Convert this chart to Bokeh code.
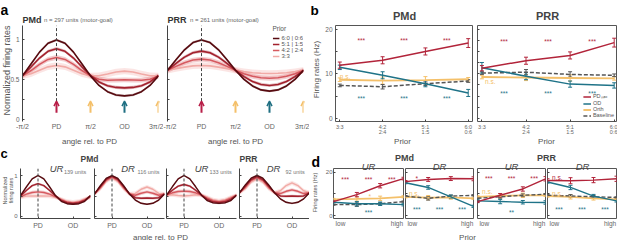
import numpy as np
from bokeh.plotting import figure
from bokeh.models import (Range1d, LinearAxis, FixedTicker, Span, Arrow, OpenHead, Whisker,
                          TeeHead, ColumnDataSource, Legend, LegendItem, GridBox)
from bokeh.layouts import row, column
from bokeh.core.properties import value
from bokeh.embed import file_html
from bokeh.resources import INLINE

FONT = "Liberation Sans"

# ---------------- data ----------------
# angle relative to PD (degrees)
ANG_A = [-90, -67.5, -45, -22.5, 0, 22.5, 45, 67.5, 90, 112.5, 135, 157.5, 180, 202.5, 225, 247.5, 270]
ANG_C = [-90, -60, -30, 0, 30, 60, 90, 120, 150, 180, 210, 240, 270]
ANGLE_TICKS = [-90, 0, 90, 180, 270]
ANGLE_LABELS = ["-π/2", "PD", "π/2", "OD", "3π/2"]
PRIOR_LABELS = ["6:0 | 0:6", "5:1 | 1:5", "4:2 | 2:4", "3:3"]

# panel a : normalized tuning curves (priors 6:0, 5:1, 4:2, 3:3)
a_pmd_60 = [.55, .699, .847, .958, 1.0, .958, .847, .699, .55, .431, .353, .312, .30, .312, .353, .431, .55]
a_pmd_51 = [.555, .662, .773, .858, .89, .858, .773, .662, .555, .474, .427, .406, .40, .406, .427, .474, .555]
a_pmd_42 = [.55, .617, .694, .756, .78, .756, .694, .617, .55, .509, .496, .498, .50, .498, .496, .509, .55]
a_pmd_33 = [.55, .577, .622, .663, .68, .663, .622, .577, .55, .551, .573, .599, .61, .599, .573, .551, .55]
a_prr_60 = [.62, .751, .876, .967, 1.0, .967, .876, .751, .62, .506, .424, .375, .36, .375, .424, .506, .62]
a_prr_51 = [.62, .706, .785, .84, .86, .84, .785, .706, .62, .541, .48, .443, .43, .443, .48, .541, .62]
a_prr_42 = [.62, .669, .715, .748, .76, .748, .715, .669, .62, .577, .545, .526, .52, .526, .545, .577, .62]
a_prr_33 = [.62, .641, .66, .675, .68, .675, .66, .641, .62, .603, .59, .583, .58, .583, .59, .603, .62]
a_band = [0.015, 0.02, 0.03, 0.04]

# panel b : firing rates vs prior
PRIOR_X = [0, 1, 2, 3]
PRIOR_TICK_LABELS = ["3:3", "4:2\n2:4", "5:1\n1:5", "6:0\n0:6"]
b_pmd_pd = [12.0, 13.1, 15.1, 17.0]
b_pmd_od = [11.5, 9.7, 7.8, 5.7]
b_pmd_orth = [8.7, 8.5, 8.6, 8.8]
b_pmd_base = [7.4, 7.1, 7.8, 8.4]
b_pmd_pd_err = [0.7, 0.8, 0.8, 1.0]
b_pmd_od_err = [0.5, 0.8, 0.7, 0.8]
b_pmd_orth_err = [0.4, 0.8, 0.8, 0.4]
b_pmd_base_err = [0.3, 0.5, 0.4, 0.3]
b_prr_pd = [11.3, 13.0, 14.2, 17.1]
b_prr_od = [11.4, 9.5, 7.7, 7.4]
b_prr_orth = [9.3, 9.2, 9.1, 9.0]
b_prr_base = [10.2, 10.4, 9.9, 9.7]
b_prr_pd_err = [0.6, 0.8, 0.8, 1.0]
b_prr_od_err = [1.2, 0.8, 0.7, 0.6]
b_prr_orth_err = [0.4, 0.7, 0.7, 0.4]
b_prr_base_err = [0.3, 0.6, 0.6, 0.3]
b_pmd_marks = [("***", 0.5, 18.0, "pd"), ("***", 1.5, 18.0, "pd"), ("***", 2.5, 18.0, "pd"),
               ("n.s.", 0.0, 9.5, "orth"),
               ("***", 0.5, 4.8, "od"), ("***", 1.5, 4.8, "od"), ("***", 2.5, 4.8, "od")]
b_prr_marks = [("***", 0.5, 17.8, "pd"), ("***", 1.5, 17.8, "pd"), ("***", 2.5, 17.8, "pd"),
               ("n.s.", 0.07, 8.4, "orth"),
               ("***", 0.5, 6.0, "od"), ("***", 1.5, 6.0, "od"), ("***", 2.5, 6.0, "od")]

# panel c : tuning curves split by UR / DR
c_pmd_ur_60 = [.51, .72, .918, 1.0, .918, .72, .51, .37, .312, .30, .312, .37, .51]
c_pmd_ur_51 = [.50, .635, .753, .80, .753, .635, .50, .395, .337, .32, .337, .395, .50]
c_pmd_ur_42 = [.48, .544, .586, .60, .586, .544, .48, .409, .352, .33, .352, .409, .48]
c_pmd_ur_33 = [.47, .496, .501, .50, .501, .496, .47, .421, .371, .35, .371, .421, .47]
c_pmd_dr_60 = [.55, .75, .928, 1.0, .928, .75, .55, .40, .322, .30, .322, .40, .55]
c_pmd_dr_51 = [.55, .724, .903, .98, .903, .724, .55, .459, .444, .45, .444, .459, .55]
c_pmd_dr_42 = [.55, .698, .878, .96, .878, .698, .55, .518, .567, .60, .567, .518, .55]
c_pmd_dr_33 = [.55, .675, .855, .94, .855, .675, .55, .565, .665, .72, .665, .565, .55]
c_prr_ur_60 = [.52, .725, .919, 1.0, .919, .725, .52, .385, .331, .32, .331, .385, .52]
c_prr_ur_51 = [.52, .64, .741, .78, .741, .64, .52, .42, .359, .34, .359, .42, .52]
c_prr_ur_42 = [.52, .578, .61, .62, .61, .578, .52, .448, .385, .36, .385, .448, .52]
c_prr_ur_33 = [.52, .53, .512, .50, .512, .53, .52, .47, .408, .38, .408, .47, .52]
c_prr_dr_60 = [.58, .77, .934, 1.0, .934, .77, .58, .43, .346, .32, .346, .43, .58]
c_prr_dr_51 = [.58, .736, .90, .97, .90, .736, .58, .501, .493, .50, .493, .501, .58]
c_prr_dr_42 = [.58, .71, .875, .95, .875, .71, .58, .56, .615, .65, .615, .56, .58]
c_prr_dr_33 = [.58, .678, .841, .92, .841, .678, .58, .628, .754, .82, .754, .628, .58]
c_band = [0.02, 0.03, 0.04, 0.05]

# panel d : firing rates low -> high prior, UR / DR
d_pmd_ur = dict(pd=[6.5, 9.7, 13.8, 17.1], od=[6.2, 5.5, 5.5, 5.1], orth=[7.5, 7.7, 8.0, 8.7], base=[5.1, 5.1, 5.5, 6.5])
d_pmd_ur_err = dict(pd=[0.4, 1.0, 1.0, 0.6], od=[1.0, 1.0, 0.8, 0.6], orth=[0.5, 1.0, 1.0, 0.5], base=[0.3, 0.8, 0.5, 0.3])
d_pmd_dr = dict(pd=[15.7, 16.7, 17.1, 17.0], od=[15.2, 13.0, 8.7, 4.3], orth=[8.7, 8.3, 8.4, 8.0], base=[9.0, 8.0, 9.0, 9.4])
d_pmd_dr_err = dict(pd=[0.5, 0.9, 0.9, 0.9], od=[0.5, 0.8, 0.8, 0.5], orth=[0.5, 1.0, 0.8, 0.5], base=[0.3, 0.8, 0.5, 0.3])
d_prr_ur = dict(pd=[6.5, 9.4, 12.3, 17.0], od=[6.8, 6.5, 6.2, 6.1], orth=[8.7, 9.1, 9.4, 9.4], base=[8.0, 8.7, 9.4, 9.9])
d_prr_ur_err = dict(pd=[0.4, 0.8, 1.0, 1.0], od=[0.8, 1.0, 0.8, 0.8], orth=[0.5, 1.0, 1.0, 0.5], base=[0.3, 0.6, 0.6, 0.3])
d_prr_dr = dict(pd=[16.2, 16.1, 16.4, 17.0], od=[15.5, 13.0, 9.0, 6.8], orth=[9.0, 8.7, 8.0, 7.5], base=[9.4, 9.1, 8.7, 8.4])
d_prr_dr_err = dict(pd=[0.8, 1.4, 1.2, 1.2], od=[0.5, 1.0, 0.8, 0.5], orth=[0.5, 1.0, 0.8, 0.5], base=[0.3, 0.6, 0.6, 0.3])
d_pmd_ur_marks = [("***", 0.5, 17.7, "pd"), ("***", 1.5, 17.7, "pd"), ("***", 2.5, 17.7, "pd"),
                  ("*", 1.55, 9.6, "orth"), ("***", 1.5, 2.2, "od")]
d_pmd_dr_marks = [("*", 0.5, 18.1, "pd"), ("n.s.", 0.15, 10.1, "orth"),
                  ("***", 0.5, 3.6, "od"), ("***", 1.5, 3.6, "od"), ("***", 2.5, 3.6, "od")]
d_prr_ur_marks = [("***", 0.5, 18.1, "pd"), ("***", 1.5, 18.1, "pd"), ("***", 2.5, 18.1, "pd"),
                  ("n.s.", 0.2, 11.2, "orth"), ("**", 1.5, 2.6, "od")]
d_prr_dr_marks = [("n.s.", 0.2, 17.8, "pd"), ("n.s.", 0.2, 10.1, "orth"),
                  ("***", 0.5, 3.6, "od"), ("***", 1.5, 3.6, "od"), ("***", 2.5, 3.6, "od")]
D_TICKS = [0.3, 2.72]
D_TICK_LABELS = ["low", "high"]

# ---------------- style ----------------
PRIOR_COLORS = ["#570b10", "#a3212d", "#d65a60", "#f1aaa6"]
COL = dict(pd="#b2243a", od="#1f7388", orth="#f4c06a", base="#555555")
DASH = dict(pd="solid", od="solid", orth="solid", base="4 2")
ARROW_X = [0, 90, 180, 270]
ARROW_COL = ["#b81f48", "#f4c06a", "#1f6f82", "#f4c06a"]
ARROW_Y = (0.09, 0.235)
AXC = "#444444"


def base_fig(w, h, left, right, top, bottom, xr, yr, outline=False):
    p = figure(width=w, height=h, x_range=Range1d(*xr), y_range=Range1d(*yr),
               x_axis_type=None, y_axis_type=None, toolbar_location=None,
               output_backend="svg", min_border_left=left, min_border_right=right,
               min_border_top=top, min_border_bottom=bottom)
    p.outline_line_color = "#555555" if outline else None
    p.background_fill_color = "white"
    p.border_fill_color = "white"
    return p


def add_axis(p, side, ticks, labels=None, size="6.5px", standoff=2, line=True, tick=True,
             hide=False, lh=1.2):
    ax = LinearAxis(ticker=FixedTicker(ticks=ticks))
    if hide:
        ax.major_label_overrides = {t: "" for t in ticks}
        ax.major_label_standoff = 0
    else:
        if labels is not None:
            ax.major_label_overrides = labels
        ax.major_label_standoff = standoff
    ax.major_label_text_font = FONT
    ax.major_label_text_font_size = size
    ax.major_label_text_color = "#666666"
    ax.major_label_text_line_height = lh
    ax.major_tick_in = 2 if tick else 0
    ax.major_tick_out = 0
    ax.major_tick_line_color = AXC if tick else None
    ax.minor_tick_line_color = None
    ax.axis_line_color = AXC if line else None
    p.add_layout(ax, side)
    return ax


def draw_curves(p, ang, curves, bands, lw):
    for ys, bw, col in zip(curves[::-1], bands[::-1], PRIOR_COLORS[::-1]):
        y = np.array(ys)
        p.varea(x=ang, y1=y - bw, y2=y + bw, fill_color=col, fill_alpha=0.3)
    rs = []
    for ys, col in zip(curves[::-1], PRIOR_COLORS[::-1]):
        rs.append(p.line(ang, ys, line_color=col, line_width=lw))
    return rs[::-1]


def a_panel(w, left, right, curves, labelled):
    p = base_fig(w, 143, left, right, 25, 19, (-90, 270), (-0.02, 1.18))
    add_axis(p, "left", [0, 0.25, 0.5, 0.75, 1], {0.25: "", 0.75: ""}, size="6.5px",
             standoff=3, hide=not labelled)
    add_axis(p, "below", ANGLE_TICKS, dict(zip(ANGLE_TICKS, ANGLE_LABELS)), size="7px",
             standoff=1, line=False, tick=False)
    rs = draw_curves(p, ANG_A, curves, a_band, 1.6)
    p.segment(x0=[0], y0=[ARROW_Y[1]], x1=[0], y1=[1.18], line_color="#444444",
              line_dash="3 2", line_width=1)
    for x, c in zip(ARROW_X, ARROW_COL):
        p.add_layout(Arrow(end=OpenHead(size=5, line_color=c, line_width=1.5),
                           x_start=x, y_start=ARROW_Y[0], x_end=x, y_end=ARROW_Y[1],
                           line_color=c, line_width=2))
    return p, rs


def stats(p, x, data, errs, lw, marks):
    rs = {}
    for key in ["orth", "base", "od", "pd"]:
        ys, es, c = data[key], errs[key], COL[key]
        rs[key] = p.line(x, ys, line_color=c, line_width=lw + (0.4 if key == "orth" else 0),
                         line_dash=DASH[key])
        src = ColumnDataSource(dict(base=x, lower=[a - b for a, b in zip(ys, es)],
                                    upper=[a + b for a, b in zip(ys, es)]))
        p.add_layout(Whisker(source=src, base="base", lower="lower", upper="upper",
                             line_color=c, line_width=1,
                             upper_head=TeeHead(size=4, line_color=c, line_width=1),
                             lower_head=TeeHead(size=4, line_color=c, line_width=1)))
    for txt, x0, y0, key in marks:
        star = "*" in txt
        p.text(x=[x0], y=[y0], text=[txt], text_color=COL[key], text_font=value(FONT),
               text_font_size=value("6.5px"),
               text_align="center" if star else "left", text_baseline="middle",
               y_offset=2 if star else 0)
    return rs


# ---------------- panel a ----------------
a_pmd, _ = a_panel(163, 22, 5, [a_pmd_60, a_pmd_51, a_pmd_42, a_pmd_33], True)
a_prr, a_rs = a_panel(146, 4, 6, [a_prr_60, a_prr_51, a_prr_42, a_prr_33], False)
leg_a = Legend(items=[LegendItem(label=l, renderers=[r]) for l, r in zip(PRIOR_LABELS, a_rs)],
               location="top_right", title="Prior")
leg_a.title_text_font = FONT
leg_a.title_text_font_size = "6.5px"
leg_a.title_text_font_style = "normal"
leg_a.title_text_color = "#555555"
leg_a.title_standoff = 3
leg_a.label_text_font = FONT
leg_a.label_text_font_size = "6px"
leg_a.label_text_color = "#555555"
leg_a.glyph_width = 7
leg_a.glyph_height = 6
leg_a.label_height = 6
leg_a.label_standoff = 2
leg_a.spacing = 0
leg_a.padding = 1
leg_a.margin = 0
leg_a.border_line_color = None
leg_a.background_fill_alpha = 0
a_prr.add_layout(leg_a)

# ---------------- panel b ----------------
B_YR = (-0.77, 20.98)
b_pmd = base_fig(165, 143, 26, 2, 17, 22, (-0.1, 3.1), B_YR, outline=True)
add_axis(b_pmd, "left", [0, 5, 10, 15, 20], {5: "", 15: ""}, size="6.5px", standoff=3, line=False)
add_axis(b_pmd, "below", PRIOR_X, dict(zip(PRIOR_X, PRIOR_TICK_LABELS)), size="5.5px",
         standoff=2, line=False, lh=0.9)
stats(b_pmd, PRIOR_X,
      dict(pd=b_pmd_pd, od=b_pmd_od, orth=b_pmd_orth, base=b_pmd_base),
      dict(pd=b_pmd_pd_err, od=b_pmd_od_err, orth=b_pmd_orth_err, base=b_pmd_base_err),
      1.5, b_pmd_marks)

b_prr = base_fig(143, 143, 3, 0, 17, 22, (-0.1, 3.075), B_YR, outline=True)
add_axis(b_prr, "left", [0, 2.5, 5, 7.5, 10, 12.5, 15, 17.5, 20], hide=True, line=False)
add_axis(b_prr, "below", PRIOR_X, dict(zip(PRIOR_X, PRIOR_TICK_LABELS)), size="5.5px",
         standoff=2, line=False, lh=0.9)
b_rs = stats(b_prr, PRIOR_X,
             dict(pd=b_prr_pd, od=b_prr_od, orth=b_prr_orth, base=b_prr_base),
             dict(pd=b_prr_pd_err, od=b_prr_od_err, orth=b_prr_orth_err, base=b_prr_base_err),
             1.5, b_prr_marks)
leg_b = Legend(items=[LegendItem(label="PDₘₐₓ", renderers=[b_rs["pd"]]),
                      LegendItem(label="OD", renderers=[b_rs["od"]]),
                      LegendItem(label="Orth", renderers=[b_rs["orth"]]),
                      LegendItem(label="Baseline", renderers=[b_rs["base"]])],
               location="bottom_right")
leg_b.label_text_font = FONT
leg_b.label_text_font_size = "5.5px"
leg_b.label_text_color = "#555555"
leg_b.glyph_width = 8
leg_b.glyph_height = 5
leg_b.label_height = 5
leg_b.label_standoff = 2
leg_b.spacing = 0
leg_b.padding = 1
leg_b.margin = 3
leg_b.border_line_color = None
leg_b.background_fill_alpha = 0
b_prr.add_layout(leg_b)


# ---------------- panel c ----------------
def c_panel(w, left, right, curves, labelled):
    p = base_fig(w, 97, left, right, 25, 22, (-90, 270), (-0.049, 1.171))
    add_axis(p, "left", [0, 0.5, 1], {0.5: ""}, size="6px", standoff=3, hide=not labelled)
    add_axis(p, "below", [0, 180], {0: "PD", 180: "OD"}, size="7px", standoff=3)
    draw_curves(p, ANG_C, curves, c_band, 1.4)
    p.add_layout(Span(location=0, dimension="height", line_color="#444444",
                      line_dash="3 2", line_width=1))
    return p


c1 = c_panel(92, 20, 2, [c_pmd_ur_60, c_pmd_ur_51, c_pmd_ur_42, c_pmd_ur_33], True)
c2 = c_panel(73, 2, 1, [c_pmd_dr_60, c_pmd_dr_51, c_pmd_dr_42, c_pmd_dr_33], False)
c3 = c_panel(73, 1, 2, [c_prr_ur_60, c_prr_ur_51, c_prr_ur_42, c_prr_ur_33], False)
c4 = c_panel(71, 1, 0, [c_prr_dr_60, c_prr_dr_51, c_prr_dr_42, c_prr_dr_33], False)


# ---------------- panel d ----------------
def d_panel(w, left, right, data, errs, marks, labelled):
    p = base_fig(w, 97, left, right, 22, 22, (0, 3), (-1.3, 21.74), outline=True)
    add_axis(p, "left", [0, 10, 20], {10: ""}, size="6px", standoff=1, line=False,
             hide=not labelled)
    add_axis(p, "below", D_TICKS, dict(zip(D_TICKS, D_TICK_LABELS)), size="6.5px",
             standoff=1, line=False, tick=False)
    stats(p, PRIOR_X, data, errs, 1.4, marks)
    return p


d1 = d_panel(95, 24, 1, d_pmd_ur, d_pmd_ur_err, d_pmd_ur_marks, True)
d2 = d_panel(71, 1, 2, d_pmd_dr, d_pmd_dr_err, d_pmd_dr_marks, False)
d3 = d_panel(71, 2, 1, d_prr_ur, d_prr_ur_err, d_prr_ur_marks, False)
d4 = d_panel(71, 1, 1, d_prr_dr, d_prr_dr_err, d_prr_dr_marks, False)

main = column(row(a_pmd, a_prr, b_pmd, b_prr), row(c1, c2, c3, c4, d1, d2, d3, d4))

# ---------------- text overlay ----------------
ov = figure(width=617, height=240, x_range=Range1d(0, 617), y_range=Range1d(-240, 0),
            x_axis_type=None, y_axis_type=None, toolbar_location=None, output_backend="svg",
            min_border_left=0, min_border_right=0, min_border_top=0, min_border_bottom=0)
ov.outline_line_color = None
ov.background_fill_color = None
ov.border_fill_color = None


def T(txt, x, y, size, style="normal", color="#444444", align="left", angle=0.0,
      baseline="alphabetic"):
    ov.text(x=[x], y=[-y], text=[txt], text_font=value(FONT), text_font_size=value(f"{size}px"),
            text_font_style=style, text_color=color, text_align=align, text_baseline=baseline,
            angle=angle)


R90 = np.pi / 2
# row 1
T("a", 0, 9.5, 14, "bold", "#000000")
T("PMd", 22, 19.5, 9, "bold", "#333333")
T("n = 297 units (motor-goal)", 43.5, 19.5, 6, color="#666666")
T("PRR", 167, 19.5, 9, "bold", "#333333")
T("n = 261 units (motor-goal)", 189.5, 19.5, 6, color="#666666")
T("Normalized firing rates", 6, 70, 9, color="#555555", align="center", angle=R90, baseline="middle")
T("angle rel. to PD", 89, 141, 8, color="#555555", align="center")
T("angle rel. to PD", 235, 141, 8, color="#555555", align="center")
T("b", 310, 9.5, 13.5, "bold", "#000000")
T("PMd", 404, 15, 11, "bold", "#444444", align="center")
T("PRR", 547, 15, 11, "bold", "#444444", align="center")
T("Firing rates (Hz)", 315.5, 69, 8, color="#555555", align="center", angle=R90, baseline="middle")
T("Prior", 402, 141, 8, color="#555555", align="center")
T("Prior", 546, 141, 8, color="#555555", align="center")
# row 2
T("c", 0, 153, 13, "bold", "#000000")
T("PMd", 89, 158, 8.5, "bold", "#444444", align="center")
T("PRR", 248, 158, 8.5, "bold", "#444444", align="center")
for txt, x, units, ux in [("UR", 56, "139 units", 63.5), ("DR", 127.5, "116 units", 137),
                          ("UR", 201, "133 units", 209), ("DR", 273, "92 units", 285)]:
    T(txt, x, 168, 9.5, "italic", "#444444", align="center")
    T(units, ux, 171.5, 5.5, color="#777777")
T("Normalized", 4.5, 190, 5.5, color="#555555", align="center", angle=R90, baseline="middle")
T("firing rates", 10.5, 190, 5.5, color="#555555", align="center", angle=R90, baseline="middle")
T("angle rel. to PD", 160, 236.5, 8, color="#555555", align="center")
T("d", 311, 161.5, 14, "bold", "#000000")
T("PMd", 404, 157.5, 9, "bold", "#444444", align="center")
T("PRR", 546, 157.5, 9, "bold", "#444444", align="center")
for txt, x in [("UR", 368), ("DR", 439), ("UR", 511), ("DR", 582)]:
    T(txt, x, 165.5, 9.5, "italic", "#444444", align="center")
T("Firing rates (Hz)", 314, 192, 5.5, color="#555555", align="center", angle=R90, baseline="middle")
T("Prior", 467, 236.5, 8, color="#555555", align="center")

root = GridBox(children=[(main, 0, 0), (ov, 0, 0)], spacing=0)

open("out.html", "w").write(file_html(root, INLINE))
